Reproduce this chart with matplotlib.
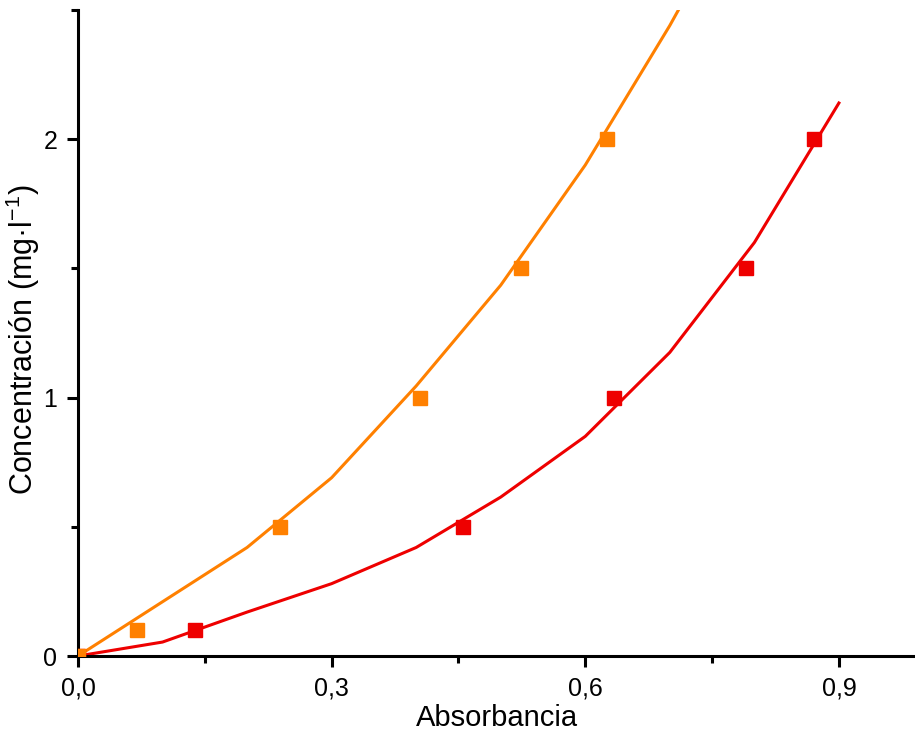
import matplotlib
matplotlib.use("Agg")
import matplotlib.pyplot as plt
from matplotlib.ticker import FixedLocator

plt.rcParams['font.family'] = ['Liberation Sans', 'DejaVu Sans']
plt.rcParams['mathtext.fontset'] = 'custom'
plt.rcParams['mathtext.rm'] = 'Liberation Sans'
plt.rcParams['mathtext.it'] = 'Liberation Sans'

# Data points
orange_x = [0.0, 0.070, 0.239, 0.404, 0.524, 0.626]
orange_y = [0.0, 0.1, 0.5, 1.0, 1.5, 2.0]
red_x = [0.0, 0.138, 0.455, 0.634, 0.790, 0.870]
red_y = [0.0, 0.1, 0.5, 1.0, 1.5, 2.0]

# Fit curves (polyline vertices)
orange_fit_x = [0.0, 0.1, 0.2, 0.3, 0.4, 0.5, 0.6, 0.7, 0.8]
orange_fit_y = [0.0, 0.21, 0.42, 0.69, 1.045, 1.435, 1.90, 2.44, 3.03]
red_fit_x = [0.0, 0.1, 0.2, 0.3, 0.4, 0.5, 0.6, 0.7, 0.8, 0.9]
red_fit_y = [0.0, 0.054, 0.17, 0.28, 0.42, 0.615, 0.85, 1.175, 1.60, 2.14]

x_ticks = [0.0, 0.3, 0.6, 0.9]
x_tick_labels = ["0,0", "0,3", "0,6", "0,9"]
y_ticks = [0, 1, 2]
y_tick_labels = ["0", "1", "2"]

ORANGE = "#ff8000"
RED = "#ee0000"

fig = plt.figure(figsize=(9.15, 7.35), dpi=100)
ax = fig.add_axes([78/915, 79/735, (915-78)/915, (656-10)/735])

ax.plot(orange_fit_x, orange_fit_y, color=ORANGE, lw=2.2, zorder=2)
ax.plot(red_fit_x, red_fit_y, color=RED, lw=2.2, zorder=2)
ax.plot(red_x, red_y, 's', color=RED, ms=9.5, mec=RED, zorder=3)
ax.plot(orange_x, orange_y, 's', color=ORANGE, ms=9.5, mec=ORANGE, zorder=3)

ax.set_xlim(0, 0.99)
ax.set_ylim(0, 2.5)

for s in ['top', 'right']:
    ax.spines[s].set_visible(False)
for s in ['left', 'bottom']:
    ax.spines[s].set_linewidth(2.2)

ax.set_xticks(x_ticks)
ax.set_xticklabels(x_tick_labels)
ax.set_yticks(y_ticks)
ax.set_yticklabels(y_tick_labels)
ax.xaxis.set_minor_locator(FixedLocator([0.15, 0.45, 0.75]))
ax.yaxis.set_minor_locator(FixedLocator([0.5, 1.5, 2.5]))
ax.tick_params(which='major', direction='out', length=8, width=2.2, labelsize=18, pad=7)
ax.tick_params(which='minor', direction='out', length=5, width=2.2)

ax.set_xlabel("Absorbancia", fontsize=21, labelpad=2)
ax.set_ylabel("Concentración (mg·l$^{-1}$)", fontsize=22)
ax.yaxis.set_label_coords((42 - 78) / 837, 0.49)

fig.savefig("out.png", dpi=100)
